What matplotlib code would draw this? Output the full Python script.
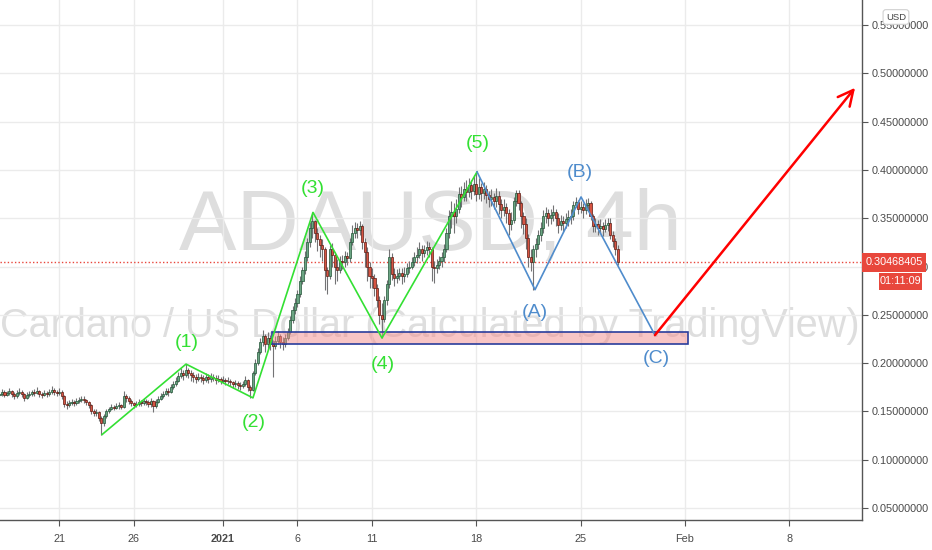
import matplotlib
matplotlib.use("Agg")
import matplotlib.pyplot as plt
import matplotlib.transforms as mtransforms
from matplotlib.patches import Rectangle
import numpy as np

# ---------------- data (4h candles, x = days since 2021-01-01) ----------------
first_day = -15.0          # Dec 17 00:00
first_open = 0.167
closes = [
    0.168, 0.170, 0.167, 0.169, 0.171, 0.168,
    0.166, 0.169, 0.170, 0.168, 0.164, 0.167,
    0.168, 0.170, 0.169, 0.171, 0.168, 0.167,
    0.169, 0.168, 0.170, 0.172, 0.170, 0.169,
    0.170, 0.166, 0.158, 0.157, 0.159, 0.160,
    0.159, 0.161, 0.162, 0.163, 0.162, 0.160,
    0.157, 0.150, 0.148, 0.149, 0.143, 0.138,
    0.145, 0.150, 0.152, 0.155, 0.154, 0.156,
    0.157, 0.155, 0.166, 0.164, 0.161, 0.159,
    0.157, 0.158, 0.160, 0.159, 0.161, 0.160,
    0.158, 0.161, 0.156, 0.160, 0.163, 0.166,
    0.168, 0.171, 0.170, 0.175, 0.178, 0.182,
    0.187, 0.190, 0.188, 0.193, 0.190, 0.188,
    0.186, 0.184, 0.186, 0.185, 0.183, 0.186,
    0.184, 0.186, 0.185, 0.183, 0.184, 0.182,
    0.183, 0.181, 0.182, 0.180, 0.178, 0.179,
    0.177, 0.176, 0.178, 0.183, 0.175, 0.172,
    0.190, 0.200, 0.212, 0.222, 0.228, 0.220,
    0.226, 0.220, 0.218, 0.223, 0.228, 0.222,
    0.220, 0.226, 0.232, 0.245, 0.255, 0.262,
    0.272, 0.285, 0.296, 0.310, 0.325, 0.340,
    0.347, 0.335, 0.328, 0.322, 0.318, 0.296,
    0.290, 0.318, 0.312, 0.300, 0.296, 0.306,
    0.305, 0.311, 0.309, 0.325, 0.335, 0.340,
    0.338, 0.342, 0.325, 0.315, 0.300, 0.290,
    0.288, 0.278, 0.265, 0.250, 0.246, 0.265,
    0.282, 0.310, 0.292, 0.288, 0.290, 0.293,
    0.290, 0.292, 0.298, 0.300, 0.305, 0.310,
    0.312, 0.318, 0.314, 0.317, 0.320, 0.318,
    0.300, 0.298, 0.302, 0.306, 0.310, 0.318,
    0.335, 0.352, 0.356, 0.352, 0.360, 0.375,
    0.372, 0.380, 0.377, 0.384, 0.378, 0.385,
    0.375, 0.382, 0.376, 0.380, 0.374, 0.370,
    0.372, 0.368, 0.373, 0.365, 0.358, 0.362,
    0.355, 0.344, 0.348, 0.368, 0.376, 0.366,
    0.352, 0.344, 0.330, 0.310, 0.305, 0.318,
    0.323, 0.333, 0.340, 0.352, 0.355, 0.350,
    0.353, 0.356, 0.350, 0.343, 0.347, 0.345,
    0.349, 0.351, 0.352, 0.364, 0.367, 0.360,
    0.362, 0.358, 0.364, 0.366, 0.352, 0.342,
    0.344, 0.340, 0.342, 0.339, 0.343, 0.345,
    0.333, 0.326, 0.318, 0.30468,
]
highs = [
    0.171, 0.173, 0.172, 0.171, 0.174, 0.172,
    0.170, 0.172, 0.174, 0.172, 0.169, 0.170,
    0.171, 0.172, 0.173, 0.175, 0.172, 0.170,
    0.172, 0.171, 0.173, 0.176, 0.174, 0.172,
    0.174, 0.172, 0.167, 0.161, 0.162, 0.163,
    0.162, 0.164, 0.165, 0.166, 0.166, 0.163,
    0.161, 0.158, 0.152, 0.152, 0.150, 0.145,
    0.147, 0.152, 0.155, 0.158, 0.157, 0.159,
    0.160, 0.158, 0.171, 0.168, 0.166, 0.163,
    0.160, 0.161, 0.163, 0.162, 0.164, 0.163,
    0.162, 0.164, 0.162, 0.163, 0.166, 0.169,
    0.171, 0.174, 0.174, 0.178, 0.181, 0.186,
    0.191, 0.195, 0.193, 0.199, 0.195, 0.193,
    0.191, 0.189, 0.190, 0.189, 0.188, 0.190,
    0.189, 0.190, 0.189, 0.188, 0.188, 0.186,
    0.187, 0.185, 0.186, 0.184, 0.182, 0.183,
    0.181, 0.180, 0.182, 0.187, 0.184, 0.177,
    0.192, 0.204, 0.216, 0.226, 0.234, 0.230,
    0.232, 0.229, 0.224, 0.228, 0.233, 0.230,
    0.227, 0.230, 0.236, 0.249, 0.259, 0.267,
    0.276, 0.290, 0.300, 0.316, 0.330, 0.346,
    0.356, 0.348, 0.340, 0.333, 0.328, 0.320,
    0.300, 0.322, 0.324, 0.315, 0.308, 0.311,
    0.312, 0.316, 0.315, 0.330, 0.343, 0.346,
    0.345, 0.347, 0.344, 0.330, 0.320, 0.305,
    0.298, 0.292, 0.282, 0.270, 0.262, 0.270,
    0.286, 0.318, 0.314, 0.298, 0.297, 0.298,
    0.298, 0.299, 0.304, 0.306, 0.310, 0.315,
    0.320, 0.325, 0.322, 0.322, 0.326, 0.325,
    0.320, 0.306, 0.308, 0.311, 0.315, 0.323,
    0.340, 0.358, 0.368, 0.366, 0.370, 0.382,
    0.383, 0.388, 0.390, 0.392, 0.390, 0.395,
    0.398, 0.392, 0.386, 0.388, 0.384, 0.378,
    0.380, 0.376, 0.381, 0.378, 0.370, 0.370,
    0.366, 0.360, 0.356, 0.372, 0.379, 0.379,
    0.368, 0.356, 0.350, 0.334, 0.318, 0.322,
    0.330, 0.338, 0.346, 0.358, 0.362, 0.360,
    0.360, 0.364, 0.360, 0.355, 0.353, 0.352,
    0.355, 0.358, 0.360, 0.368, 0.372, 0.369,
    0.368, 0.366, 0.370, 0.371, 0.368, 0.354,
    0.350, 0.348, 0.349, 0.346, 0.349, 0.350,
    0.350, 0.337, 0.330, 0.322,
]
lows = [
    0.165, 0.166, 0.165, 0.166, 0.167, 0.165,
    0.163, 0.164, 0.167, 0.165, 0.161, 0.163,
    0.165, 0.166, 0.166, 0.168, 0.165, 0.164,
    0.166, 0.165, 0.166, 0.168, 0.167, 0.166,
    0.167, 0.163, 0.155, 0.152, 0.155, 0.157,
    0.156, 0.157, 0.159, 0.160, 0.159, 0.157,
    0.154, 0.147, 0.145, 0.145, 0.140, 0.126,
    0.135, 0.143, 0.148, 0.151, 0.151, 0.152,
    0.153, 0.152, 0.154, 0.160, 0.158, 0.156,
    0.154, 0.155, 0.156, 0.156, 0.157, 0.157,
    0.155, 0.155, 0.149, 0.154, 0.159, 0.162,
    0.164, 0.167, 0.166, 0.169, 0.173, 0.176,
    0.180, 0.185, 0.183, 0.186, 0.185, 0.182,
    0.180, 0.179, 0.181, 0.180, 0.178, 0.180,
    0.179, 0.180, 0.181, 0.178, 0.180, 0.178,
    0.179, 0.177, 0.178, 0.176, 0.174, 0.175,
    0.173, 0.172, 0.174, 0.176, 0.171, 0.164,
    0.171, 0.188, 0.198, 0.209, 0.218, 0.212,
    0.215, 0.214, 0.186, 0.215, 0.220, 0.216,
    0.214, 0.217, 0.224, 0.230, 0.242, 0.251,
    0.258, 0.268, 0.282, 0.292, 0.306, 0.320,
    0.330, 0.325, 0.316, 0.310, 0.306, 0.276,
    0.272, 0.287, 0.300, 0.282, 0.285, 0.293,
    0.297, 0.300, 0.302, 0.305, 0.322, 0.330,
    0.330, 0.333, 0.318, 0.300, 0.285, 0.278,
    0.278, 0.270, 0.258, 0.240, 0.226, 0.243,
    0.260, 0.278, 0.286, 0.280, 0.283, 0.286,
    0.282, 0.284, 0.289, 0.293, 0.297, 0.301,
    0.304, 0.309, 0.306, 0.310, 0.312, 0.310,
    0.285, 0.283, 0.293, 0.297, 0.300, 0.305,
    0.315, 0.330, 0.340, 0.335, 0.345, 0.355,
    0.362, 0.368, 0.368, 0.372, 0.370, 0.374,
    0.368, 0.370, 0.368, 0.370, 0.366, 0.362,
    0.363, 0.360, 0.362, 0.354, 0.350, 0.352,
    0.345, 0.333, 0.338, 0.345, 0.363, 0.358,
    0.340, 0.334, 0.318, 0.300, 0.295, 0.276,
    0.310, 0.318, 0.326, 0.335, 0.345, 0.342,
    0.344, 0.347, 0.342, 0.335, 0.338, 0.336,
    0.340, 0.342, 0.344, 0.348, 0.362, 0.354,
    0.355, 0.350, 0.354, 0.357, 0.348, 0.336,
    0.336, 0.333, 0.335, 0.332, 0.336, 0.337,
    0.328, 0.320, 0.312, 0.302,
]

# Elliott wave pivots (days since Jan 1, price)
impulse_days = [-8.12, -2.48, 2.01, 6.04, 10.67, 17.05]
impulse_prices = [0.126, 0.199, 0.164, 0.356, 0.226, 0.398]
impulse_labels = ["(1)", "(2)", "(3)", "(4)", "(5)"]
impulse_label_days = [-2.42, 2.08, 6.04, 10.74, 17.10]
impulse_label_prices = [0.221, 0.139, 0.381, 0.199, 0.427]

corr_days = [17.05, 20.94, 24.03, 28.99]
corr_prices = [0.398, 0.276, 0.372, 0.229]
corr_labels = ["(A)", "(B)", "(C)"]
corr_label_days = [20.94, 23.96, 29.06]
corr_label_prices = [0.252, 0.397, 0.205]

arrow_start = (28.99, 0.229)
arrow_end = (42.42, 0.485)

zone_days = (3.29, 31.21)
zone_prices = (0.2200, 0.2320)

last_price = 0.30468405
price_label = "0.30468405"
countdown = "01:11:09"

tick_days = [-11, -6, 0, 5, 10, 17, 24, 31, 38]
tick_labels = ["21", "26", "2021", "6", "11", "18", "25", "Feb", "8"]
price_ticks = [0.05, 0.10, 0.15, 0.20, 0.25, 0.30, 0.35, 0.40, 0.45, 0.50, 0.55]

# ---------------- styling ----------------
UP_FACE, UP_EDGE = "#6ba583", "#225437"
DN_FACE, DN_EDGE = "#d75442", "#5b1a13"
WICK = "#737375"
GREEN = "#33e033"
BLUE = "#4f8ccc"
RED_LBL = "#e8473c"
AXC = "#555555"
TXT = "#4a4a4a"
SANS = ["Liberation Sans", "DejaVu Sans"]

fig = plt.figure(figsize=(9.32, 5.5), dpi=100)
fig.patch.set_facecolor("white")
ax = fig.add_axes([0, 30 / 550, 862 / 932, 520 / 550])
ax.set_xlim(-14.966, 42.886)
ax.set_ylim(0.0376, 0.5759)

# grid
ax.set_axisbelow(True)
ax.set_xticks(tick_days)
ax.set_xticklabels(tick_labels)
ax.set_yticks(price_ticks)
ax.set_yticklabels(["%.8f" % p for p in price_ticks])
ax.grid(True, color="#ebebeb", lw=1.0)
ax.yaxis.tick_right()
for s in ("top", "left"):
    ax.spines[s].set_visible(False)
for s in ("right", "bottom"):
    ax.spines[s].set_color(AXC)
    ax.spines[s].set_linewidth(1.0)
ax.tick_params(axis="y", length=4, color=AXC, labelsize=7.8, labelcolor=TXT, pad=3)
ax.tick_params(axis="x", length=4, color=AXC, labelsize=7.8, labelcolor=TXT, pad=6)
for lbl in ax.get_xticklabels() + ax.get_yticklabels():
    lbl.set_fontfamily(SANS)
for lbl in ax.get_xticklabels():
    if lbl.get_text() == "2021":
        lbl.set_fontweight("bold")

# watermark
ax.text(0.4988, (520 - 250) / 520, "ADAUSD, 4h", transform=ax.transAxes,
        ha="center", va="baseline", fontsize=62, color="#dedede",
        family=SANS, zorder=0.5)
ax.text(0.4988, (520 - 337) / 520, "Cardano / US Dollar (Calculated by TradingView)",
        transform=ax.transAxes, ha="center", va="baseline", fontsize=28.5,
        color="#dedede", family=SANS, zorder=0.5)

# last price dotted line
ax.axhline(last_price, color=RED_LBL, ls=(0, (1, 1.6)), lw=1.0, zorder=1.8)

# candles
n = len(closes)
days = np.array([first_day + i / 6.0 for i in range(n)])
c = np.array(closes)
o = np.concatenate([[first_open], c[:-1]])
h = np.maximum(np.array(highs), np.maximum(o, c))
l = np.minimum(np.array(lows), np.minimum(o, c))
up = c >= o
ax.vlines(days, l, h, color=WICK, lw=0.8, zorder=2)
body_h = np.maximum(np.abs(c - o), 0.0009)
body_b = np.minimum(o, c)
ax.bar(days[up], body_h[up], bottom=body_b[up], width=0.14,
       color=UP_FACE, edgecolor=UP_EDGE, linewidth=0.5, zorder=2.2)
ax.bar(days[~up], body_h[~up], bottom=body_b[~up], width=0.14,
       color=DN_FACE, edgecolor=DN_EDGE, linewidth=0.5, zorder=2.2)

# support zone
ax.add_patch(Rectangle((zone_days[0], zone_prices[0]), zone_days[1] - zone_days[0],
                       zone_prices[1] - zone_prices[0], facecolor=(0.95, 0.55, 0.55, 0.5),
                       edgecolor="#2a3d9c", lw=1.2, zorder=3))

# wave lines
ax.plot(impulse_days, impulse_prices, color=GREEN, lw=1.2, zorder=4)
ax.plot(corr_days, corr_prices, color=BLUE, lw=1.2, zorder=4)
for t, x, y in zip(impulse_labels, impulse_label_days, impulse_label_prices):
    ax.text(x, y, t, ha="center", va="center", color=GREEN, fontsize=14,
            family=SANS, zorder=5)
for t, x, y in zip(corr_labels, corr_label_days, corr_label_prices):
    ax.text(x, y, t, ha="center", va="center", color=BLUE, fontsize=14,
            family=SANS, zorder=5)

# projection arrow
ax.annotate("", xy=arrow_end, xytext=arrow_start,
            arrowprops=dict(arrowstyle="->,head_length=1.1,head_width=0.55",
                            color="#ff0000", lw=1.8, shrinkA=0, shrinkB=0),
            zorder=5)

# right-axis labels (price / countdown / currency)
bt = mtransforms.blended_transform_factory(ax.transAxes, ax.transData)
ax.add_patch(Rectangle((1.0, 0.2943), 0.0742, 0.3140 - 0.2943, transform=bt,
                       facecolor=RED_LBL, edgecolor="none", clip_on=False, zorder=10))
ax.text(1.0371, last_price, price_label, transform=bt, ha="center", va="center",
        color="white", fontsize=7.8, family=SANS, clip_on=False, zorder=11)
ax.add_patch(Rectangle((1.0197, 0.2757), 0.0499, 0.2933 - 0.2757, transform=bt,
                       facecolor=RED_LBL, edgecolor="none", clip_on=False, zorder=10))
ax.text(1.0446, 0.2845, countdown, transform=bt, ha="center", va="center",
        color="white", fontsize=7.8, family=SANS, clip_on=False, zorder=11)
ax.text(1.0394, 0.5583, "USD", transform=bt, ha="center", va="center",
        color="#444444", fontsize=6.8, family=SANS, clip_on=False, zorder=11,
        bbox=dict(boxstyle="round,pad=0.3", fc="white", ec="#d0d0d0", lw=0.8))

fig.savefig("out.png", dpi=100, facecolor="white")
